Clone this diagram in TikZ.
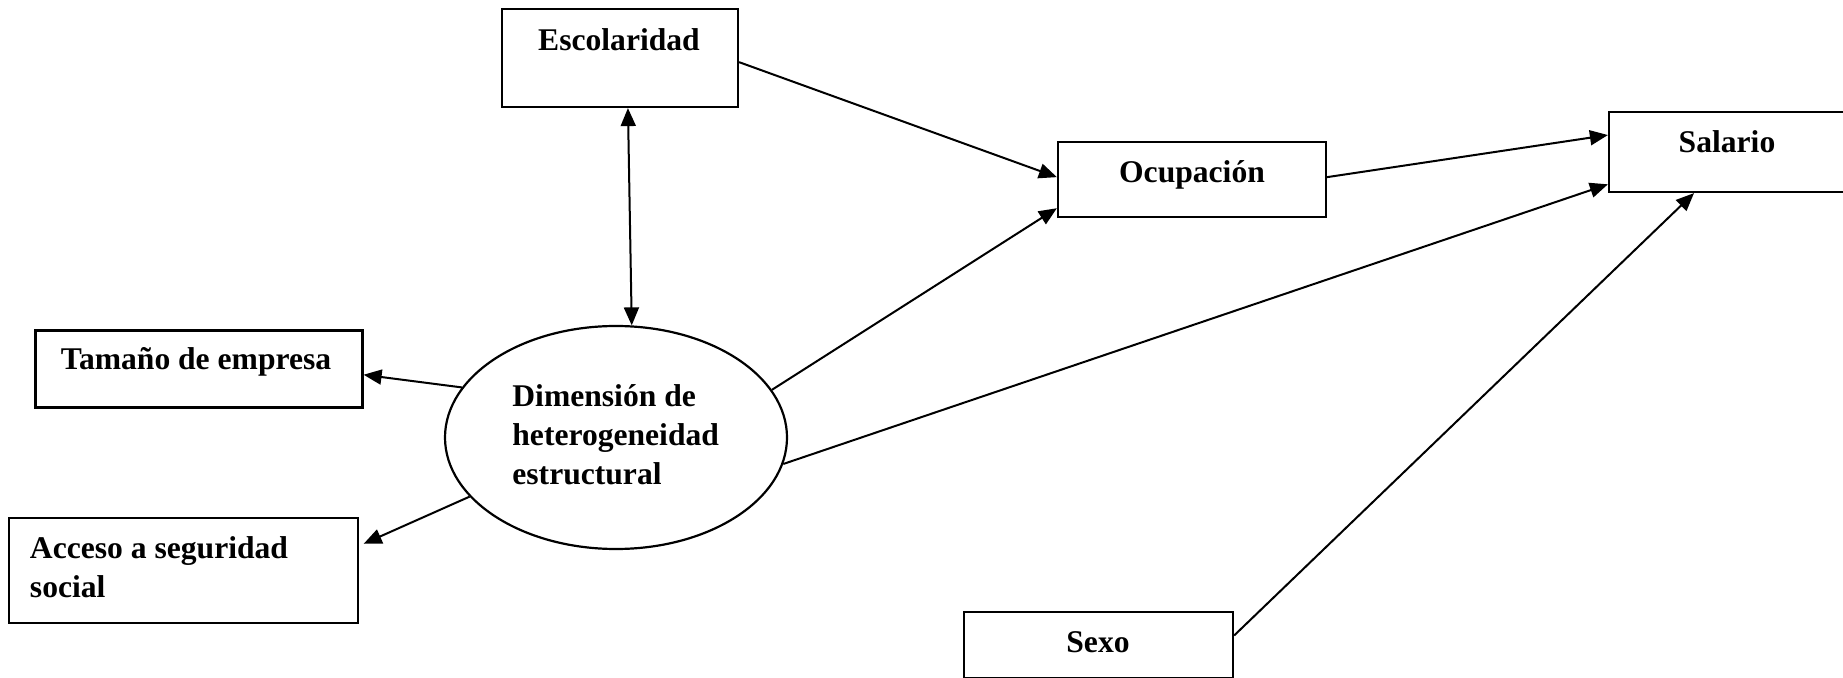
\documentclass[tikz,border=0pt]{standalone}
\usepackage{fontspec}
\setmainfont{Liberation Serif}
\usetikzlibrary{arrows.meta,shapes.geometric}

\tikzset{
  box/.style={draw, rectangle, line width=1.1pt, inner sep=0pt},
  latent/.style={draw, ellipse, line width=1.1pt, inner sep=0pt},
  txt/.style={font=\fontsize{15.8}{19.5}\selectfont\bfseries, inner sep=0pt, anchor=base},
}

\begin{document}
\begin{tikzpicture}[x=0.5pt,y=-0.5pt,>={Triangle[length=9pt,width=7.5pt]}]
  \clip (0,0) rectangle (1843,678);
  % boxes
  \node[box,minimum width=118pt,minimum height=49pt] (esc) at (620,58) {};
  \node[box,minimum width=134pt,minimum height=37.5pt] (ocup) at (1192,179.5) {};
  \node[box,minimum width=119.5pt,minimum height=40pt] (sal) at (1728.5,152) {};
  \node[box,minimum width=163.5pt,minimum height=38.5pt] (tam) at (199,369) {};
  \node[box,minimum width=174.5pt,minimum height=52.5pt] (acc) at (183.5,570.5) {};
  \node[box,minimum width=134.5pt,minimum height=33pt] (sexo) at (1098.5,645) {};
  \node[latent,minimum width=171pt,minimum height=111.5pt] (dim) at (616,437.5) {};
  % texts
  \node[txt] (esct) at (619,51) {Escolaridad};
  \node[txt] (ocupt) at (1192,183) {Ocupación};
  \node[txt] (salt) at (1727,152.5) {Salario};
  \node[txt] (tamt) at (196,370) {Tamaño de empresa};
  \node[txt] (sexot) at (1098,652.7) {Sexo};
  \node[txt,align=left,anchor=base west] (acct) at (29.6,597) {Acceso a seguridad\\social};
  \node[txt,align=left,anchor=base west] (dimt) at (512,485) {Dimensión de\\heterogeneidad\\estructural};
  % connectors
  \path[->,line width=1pt]
  (esc.-2) edge (ocup.179)
  (esc.-81) edge[<->] (dim.82)
  (dim.17) edge (ocup.192)
  (ocup.1) edge (sal.172)
  (dim.-9) edge (sal.195)
  (sexo.4) edge (sal.230)
  (dim.162) edge (tam.-2.5)
  (dim.202) edge[shorten >=2.5pt] (acc.8)
  ;
\end{tikzpicture}
\end{document}
